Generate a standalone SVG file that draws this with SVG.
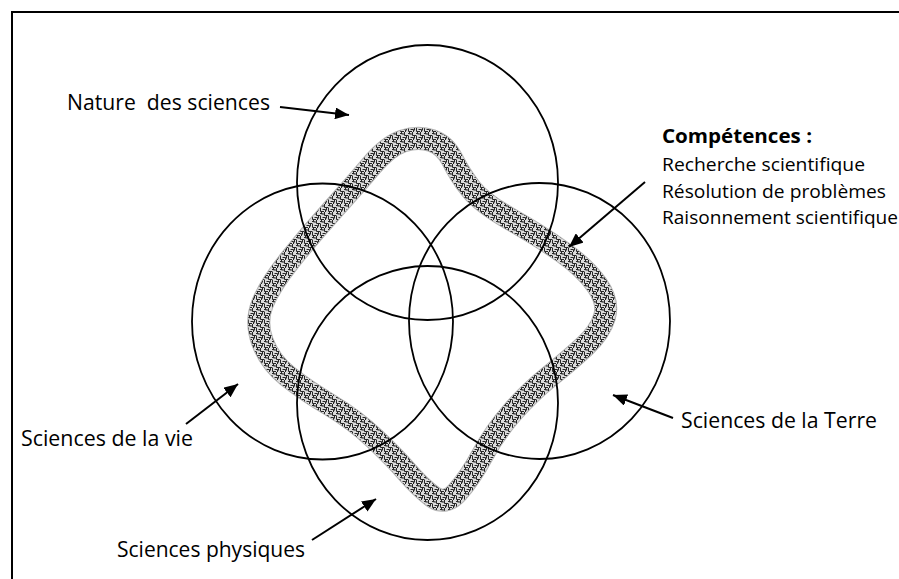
<svg xmlns="http://www.w3.org/2000/svg" width="899" height="579" viewBox="0 0 899 579">
  <style>
    .frame { fill: none; stroke: #000; stroke-width: 2; }
    .domain { fill: none; stroke: #000; stroke-width: 1.8; }
    .label { font-family: "Open Sans", "Liberation Sans", sans-serif; font-size: 21px; fill: #000; }
    .list { font-family: "Open Sans", "Liberation Sans", sans-serif; font-size: 19px; fill: #000; }
    .title { font-family: "Open Sans", "Liberation Sans", sans-serif; font-size: 19px; font-weight: bold; fill: #000; }
    .pointer { fill: none; stroke: #000; stroke-width: 2; marker-end: url(#head); }
    .ring-edge { fill: none; stroke: #b4b4b4; stroke-width: 23; stroke-linejoin: round; }
    .ring-fill { fill: none; stroke: url(#weave); stroke-width: 21; stroke-linejoin: round; }
  </style>
  <defs>
    <marker id="head" markerUnits="userSpaceOnUse" markerWidth="15" markerHeight="12" refX="14" refY="6" orient="auto">
      <path d="M0,0 L14,6 L0,12 z" fill="#000"/>
    </marker>
    <!-- small woven fret used to fill the skills ring -->
    <pattern id="weave" patternUnits="userSpaceOnUse" width="8" height="8">
      <rect width="8" height="8" fill="#dcdcdc"/>
      <path d="M0.5,0 V3.5 H4 M4.5,4 V7.5 H8 M0,7.5 H0.5 M6.5,0 V2.5 M0,5.5 H2.5 M2.5,1.5 H5.5 M5.5,1.5 V4 M1.5,4 V6 H4.5"
            fill="none" stroke="#262626" stroke-width="1"/>
    </pattern>
    <path id="ring-path" d="M403,141 Q418,136 431.5,140.5 Q445,145 452.5,160 Q460,175 471,189 Q482,203 511,219.5 Q540,236 562.5,252 Q585,268 597,285 Q609,302 604.5,317 Q600,332 585,346 Q570,360 550,376 Q530,392 512.5,412 Q495,432 482.5,455 Q470,478 457.5,492 Q445,506 432.5,496.5 Q420,487 407.5,472.5 Q395,458 375,439 Q355,420 330,405 Q305,390 287.5,376 Q270,362 262.5,342 Q255,322 262.5,303.5 Q270,285 290,260 Q310,235 332.5,210 Q355,185 371.5,165.5 Q388,146 403,141 Z"/>
  </defs>

  <rect width="899" height="579" fill="#fff"/>
  <path class="frame" d="M12,579 V12 H899"/>

  <!-- skills ring -->
  <g id="competences-ring">
    <use href="#ring-path" class="ring-edge"/>
    <use href="#ring-path" class="ring-fill"/>
  </g>

  <!-- four overlapping domains -->
  <g id="nature-des-sciences"><ellipse class="domain" cx="427.5" cy="182.5" rx="130.5" ry="137.5"/></g>
  <g id="sciences-de-la-vie"><ellipse class="domain" cx="322.5" cy="321.5" rx="130.5" ry="138"/></g>
  <g id="sciences-de-la-terre"><ellipse class="domain" cx="539.5" cy="321" rx="130.5" ry="138"/></g>
  <g id="sciences-physiques"><ellipse class="domain" cx="427.5" cy="403" rx="130.5" ry="137"/></g>

  <!-- labels -->
  <g id="label-nature">
    <text class="label" x="67" y="110" xml:space="preserve" textLength="203" lengthAdjust="spacingAndGlyphs">Nature  des sciences</text>
  </g>
  <g id="label-competences">
    <text class="title" x="662" y="143" textLength="150" lengthAdjust="spacingAndGlyphs">Compétences :</text>
    <text class="list" x="662" y="171" textLength="203" lengthAdjust="spacingAndGlyphs">Recherche scientifique</text>
    <text class="list" x="662" y="198" textLength="224" lengthAdjust="spacingAndGlyphs">Résolution de problèmes</text>
    <text class="list" x="662" y="224" textLength="236" lengthAdjust="spacingAndGlyphs">Raisonnement scientifique</text>
  </g>
  <g id="label-vie">
    <text class="label" x="21" y="446" textLength="172" lengthAdjust="spacingAndGlyphs">Sciences de la vie</text>
  </g>
  <g id="label-physiques">
    <text class="label" x="117" y="557" textLength="188" lengthAdjust="spacingAndGlyphs">Sciences physiques</text>
  </g>
  <g id="label-terre">
    <text class="label" x="681" y="428" textLength="196" lengthAdjust="spacingAndGlyphs">Sciences de la Terre</text>
  </g>

  <!-- pointers -->
  <g id="connectors">
    <line class="pointer" x1="280" y1="107" x2="349" y2="115"/>
    <line class="pointer" x1="645" y1="182" x2="569" y2="247"/>
    <line class="pointer" x1="186" y1="424" x2="238" y2="384"/>
    <line class="pointer" x1="312" y1="540" x2="376" y2="499"/>
    <line class="pointer" x1="673" y1="418" x2="613" y2="395"/>
  </g>
</svg>
